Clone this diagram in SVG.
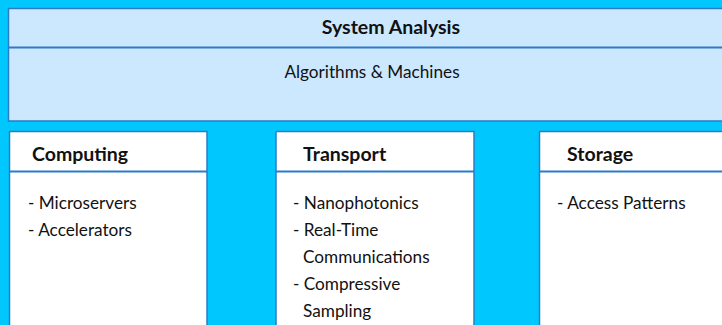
<svg xmlns="http://www.w3.org/2000/svg" width="722" height="325" viewBox="0 0 722 325">
<style>
.box{fill:#ffffff;stroke:#2a7cc7;stroke-width:1.5}
.top{fill:#cce8ff;stroke:#2a7cc7;stroke-width:1.5}
.div{stroke:#2a7cc7;stroke-width:2}
text{font-family:Lato,"Liberation Sans",sans-serif;fill:#111}
.h{font-weight:bold;font-size:19.5px}
.t{font-size:17.2px}
</style>
<rect x="0" y="0" width="722" height="325" fill="#00c8ff"/>
<g id="system-analysis">
<rect class="top" x="8.5" y="8.5" width="720" height="112.5"/>
<line class="div" x1="8.5" y1="47.5" x2="728" y2="47.5"/>
<text class="h" x="391" y="34" text-anchor="middle">System Analysis</text>
<text class="t" x="372" y="78" text-anchor="middle">Algorithms &amp; Machines</text>
</g>
<g id="computing">
<rect class="box" x="9.5" y="131.5" width="197.5" height="200"/>
<line class="div" x1="9.5" y1="171.5" x2="207" y2="171.5"/>
<text class="h" x="32" y="161">Computing</text>
<text class="t" x="28" y="209">- Microservers</text>
<text class="t" x="28" y="236">- Accelerators</text>
</g>
<g id="transport">
<rect class="box" x="276" y="131.5" width="198" height="200"/>
<line class="div" x1="276" y1="171.5" x2="474" y2="171.5"/>
<text class="h" x="303" y="161">Transport</text>
<text class="t" x="293" y="209">- Nanophotonics</text>
<text class="t" x="293" y="236">- Real-Time</text>
<text class="t" x="303" y="263">Communications</text>
<text class="t" x="293" y="290">- Compressive</text>
<text class="t" x="303" y="317">Sampling</text>
</g>
<g id="storage">
<rect class="box" x="539.5" y="131.5" width="190" height="200"/>
<line class="div" x1="539.5" y1="171.5" x2="730" y2="171.5"/>
<text class="h" x="567" y="161">Storage</text>
<text class="t" x="557" y="209">- Access Patterns</text>
</g>
<g id="connectors"/>
</svg>
